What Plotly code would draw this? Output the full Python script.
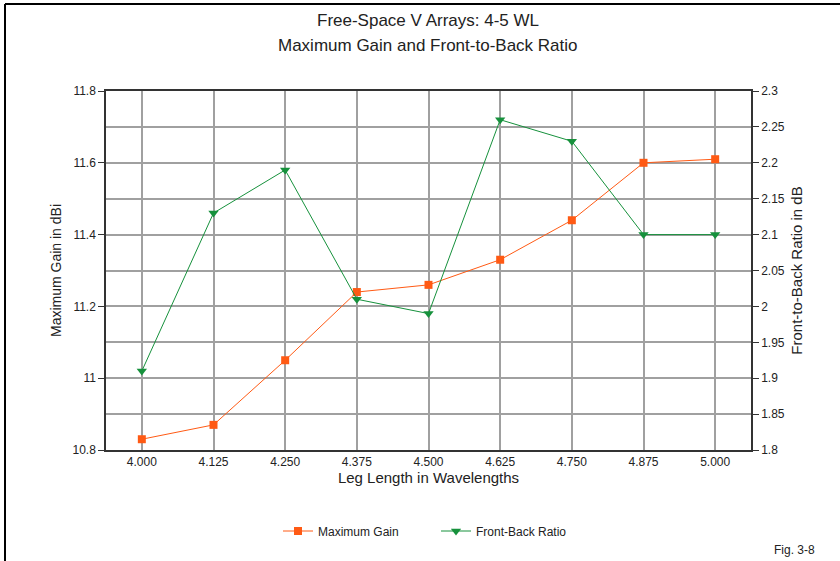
import plotly.graph_objects as go

leg_lengths = ["4.000", "4.125", "4.250", "4.375", "4.500", "4.625", "4.750", "4.875", "5.000"]
max_gain = [10.83, 10.87, 11.05, 11.24, 11.26, 11.33, 11.44, 11.60, 11.61]
front_back = [1.91, 2.13, 2.19, 2.01, 1.99, 2.26, 2.23, 2.10, 2.10]

left_ticks = [10.8, 11.0, 11.2, 11.4, 11.6, 11.8]
left_labels = ["10.8", "11", "11.2", "11.4", "11.6", "11.8"]
right_ticks = [1.8, 1.85, 1.9, 1.95, 2.0, 2.05, 2.1, 2.15, 2.2, 2.25, 2.3]
right_labels = ["1.8", "1.85", "1.9", "1.95", "2", "2.05", "2.1", "2.15", "2.2", "2.25", "2.3"]

ORANGE = "#ff5a14"
GREEN = "#16913c"
FONT = "Liberation Sans, Arial, sans-serif"
TXT = "#222222"

fig = go.Figure()
fig.add_trace(go.Scatter(
    x=leg_lengths, y=max_gain, name="Maximum Gain", mode="lines+markers",
    line=dict(color=ORANGE, width=1),
    marker=dict(symbol="square", size=8, color=ORANGE),
))
fig.add_trace(go.Scatter(
    x=leg_lengths, y=front_back, name="Front-Back Ratio", mode="lines+markers",
    yaxis="y2",
    line=dict(color=GREEN, width=1),
    marker=dict(symbol="triangle-down", size=9, color=GREEN),
))

W, H = 840, 561
L, R, T, B = 106, 89, 91, 111
pw, ph = W - L - R, H - T - B

def px(x):
    return (x - L) / pw

def py(y):
    return (H - B - y) / ph

fig.update_layout(
    width=W, height=H,
    margin=dict(l=L, r=R, t=T, b=B),
    paper_bgcolor="white", plot_bgcolor="white",
    font=dict(family=FONT, size=12, color=TXT),
    showlegend=True,
    legend=dict(orientation="h", x=px(278), y=py(531), xanchor="left", yanchor="middle",
                font=dict(size=12, color=TXT), entrywidth=113, entrywidthmode="pixels"),
    xaxis=dict(
        type="category", range=[-0.5, 8.5],
        showgrid=True, gridcolor="#a0a0a0", gridwidth=2,
        showline=True, linecolor="#333333", linewidth=1.5, mirror=True,
        ticks="outside", ticklen=0, tickcolor="#333333",
        tickfont=dict(size=12, color=TXT),
        title=dict(text="Leg Length in Wavelengths", font=dict(size=15, color=TXT), standoff=3),
        zeroline=False,
    ),
    yaxis=dict(
        range=[10.8, 11.8], tickvals=left_ticks, ticktext=left_labels,
        showgrid=True, gridcolor="#a0a0a0", gridwidth=2,
        minor=dict(dtick=0.1, tick0=10.8, showgrid=True, gridcolor="#a0a0a0", gridwidth=2),
        showline=True, linecolor="#333333", linewidth=1.5,
        ticks="outside", ticklen=6, tickcolor="#333333",
        tickfont=dict(size=12, color=TXT),
        title=dict(text="Maximum Gain in dBi", font=dict(size=14, color=TXT), standoff=8),
        zeroline=False,
    ),
    yaxis2=dict(
        range=[1.8, 2.3], tickvals=right_ticks, ticktext=right_labels,
        overlaying="y", side="right", showgrid=False,
        showline=True, linecolor="#333333", linewidth=1.5,
        ticks="outside", ticklen=6, tickcolor="#333333",
        tickfont=dict(size=12, color=TXT),
        title=dict(text="Front-to-Back Ratio in dB", font=dict(size=15, color=TXT), standoff=8),
        zeroline=False,
    ),
    annotations=[
        dict(text="Free-Space V Arrays: 4-5 WL", x=px(428), y=py(20), xref="paper", yref="paper",
             showarrow=False, font=dict(size=17, color=TXT), xanchor="center", yanchor="middle"),
        dict(text="Maximum Gain and Front-to-Back Ratio", x=px(428), y=py(46), xref="paper", yref="paper",
             showarrow=False, font=dict(size=17, color=TXT), xanchor="center", yanchor="middle"),
        dict(text="Fig. 3-8", x=px(817), y=py(550), xref="paper", yref="paper",
             showarrow=False, font=dict(size=12, color=TXT), xanchor="right", yanchor="middle"),
    ],
    shapes=[
        dict(type="line", xref="paper", yref="paper", x0=px(5), x1=px(840), y0=py(4), y1=py(4),
             line=dict(color="black", width=2)),
        dict(type="line", xref="paper", yref="paper", x0=px(5), x1=px(5), y0=py(4), y1=py(561),
             line=dict(color="black", width=2)),
    ],
)

fig.write_html("out.html", config={"displayModeBar": False},
               post_script="document.body.style.margin='0';document.body.style.overflow='hidden';")
